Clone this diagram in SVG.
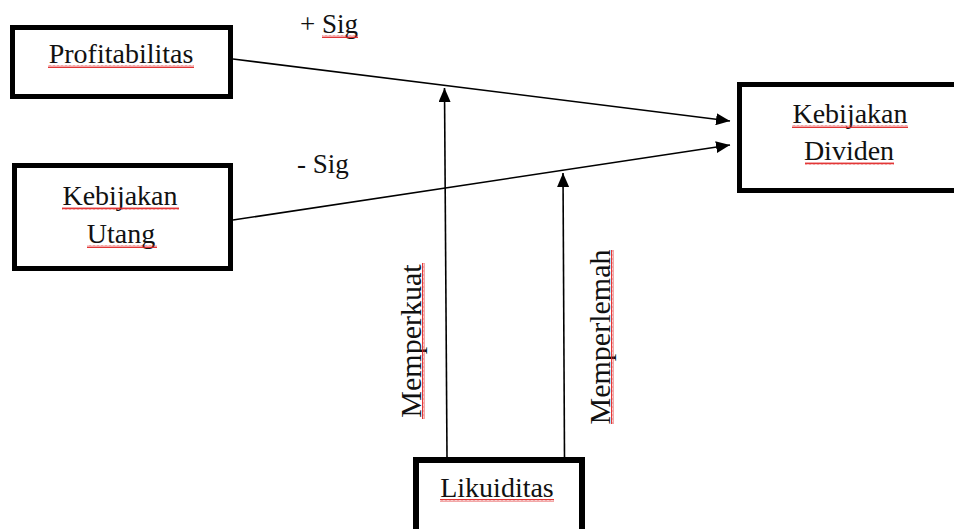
<svg xmlns="http://www.w3.org/2000/svg" width="954" height="529" viewBox="0 0 954 529">
<style>
.box{fill:#fff;stroke:#000;stroke-width:5}
.t{font-family:"Liberation Serif","Times New Roman",serif;font-size:28px;fill:#111;text-anchor:middle}
.lbl{font-family:"Liberation Serif","Times New Roman",serif;font-size:27px;fill:#111}
.vt{font-family:"Liberation Serif","Times New Roman",serif;font-size:30px;fill:#111;text-anchor:middle}
.c{stroke:#000;stroke-width:1.6;fill:none;marker-end:url(#ah)}
.sq{fill:url(#wave)}
</style>
<defs>
<marker id="ah" viewBox="0 0 14 12" refX="14" refY="6" markerWidth="14" markerHeight="12" markerUnits="userSpaceOnUse" orient="auto">
<path d="M0,0 L14,6 L0,12 Z" fill="#000"/>
</marker>
<pattern id="wave" width="4" height="3" patternUnits="userSpaceOnUse">
<path d="M0,2.5 L1,0.5 L2,2.5 L3,0.5 L4,2.5" fill="none" stroke="#e02020" stroke-width="0.9"/>
</pattern>
</defs>
<rect width="954" height="529" fill="#fff"/>
<g id="connectors">
<line class="c" x1="233" y1="59" x2="730" y2="121"/>
<line class="c" x1="233" y1="220" x2="730" y2="145"/>
<line class="c" x1="447" y1="457" x2="444.5" y2="88"/>
<line class="c" x1="564.5" y1="457" x2="563" y2="173"/>
<text class="lbl" x="300" y="33">+ Sig</text>
<rect class="sq" x="322" y="35" width="36" height="3"/>
<text class="lbl" x="297" y="173">- Sig</text>
<g transform="translate(421,341) rotate(-90)">
<text class="vt" x="0" y="0">Memperkuat</text>
<rect class="sq" x="-78" y="1" width="156" height="3"/>
</g>
<g transform="translate(610,337) rotate(-90)">
<text class="vt" x="0" y="0">Memperlemah</text>
<rect class="sq" x="-87" y="1" width="174" height="3"/>
</g>
</g>
<g id="profitabilitas">
<rect class="box" x="12.5" y="27.5" width="218" height="69"/>
<text class="t" x="121" y="63">Profitabilitas</text>
<rect class="sq" x="48" y="65" width="146" height="3"/>
</g>
<g id="kebijakan-utang">
<rect class="box" x="14.5" y="165.5" width="216" height="103"/>
<text class="t" x="120" y="205">Kebijakan</text>
<rect class="sq" x="62" y="207" width="117" height="3"/>
<text class="t" x="121" y="243">Utang</text>
<rect class="sq" x="87" y="245" width="70" height="3"/>
</g>
<g id="kebijakan-dividen">
<rect class="box" x="739.5" y="84.5" width="230" height="106"/>
<text class="t" x="850" y="123">Kebijakan</text>
<rect class="sq" x="792" y="125" width="116" height="3"/>
<text class="t" x="849" y="160">Dividen</text>
<rect class="sq" x="805" y="162" width="89" height="3"/>
</g>
<g id="likuiditas">
<rect class="box" x="416" y="460" width="166" height="80" style="stroke-width:6"/>
<text class="t" x="497" y="497">Likuiditas</text>
<rect class="sq" x="440" y="499" width="114" height="3"/>
</g>
</svg>
